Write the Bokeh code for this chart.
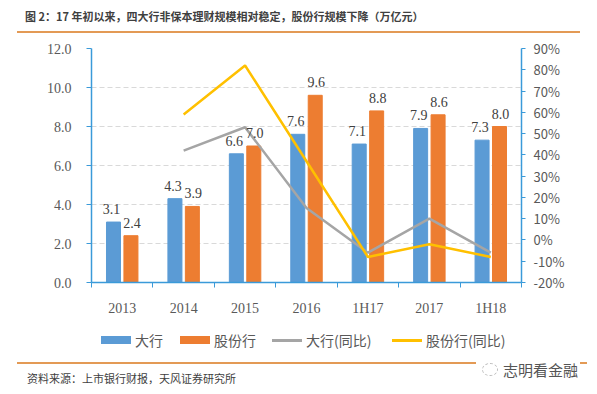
from bokeh.plotting import figure
from bokeh.models import (Range1d, LinearAxis, FixedTicker, NumeralTickFormatter,
                          PrintfTickFormatter, ColumnDataSource, LabelSet, Div)
from bokeh.layouts import column
from bokeh.embed import file_html
from bokeh.resources import INLINE
from bokeh.core.properties import value

categories = ["2013", "2014", "2015", "2016", "1H17", "2017", "1H18"]
big_banks = [3.1, 4.3, 6.6, 7.6, 7.1, 7.9, 7.3]
joint_stock = [2.4, 3.9, 7.0, 9.6, 8.8, 8.6, 8.0]
big_yoy = [float("nan"), 42, 53, 15, -6, 10, -6]
joint_yoy = [float("nan"), 59, 82, 37, -8, -2, -8]
left_ticks = [0, 2, 4, 6, 8, 10, 12]
right_ticks = [-20, -10, 0, 10, 20, 30, 40, 50, 60, 70, 80, 90]
series_names = ["大行", "股份行", "大行(同比)", "股份行(同比)"]

title_text = "图 2：17 年初以来，四大行非保本理财规模相对稳定，股份行规模下降（万亿元）"
source_text = "资料来源：上市银行财报，天风证券研究所"
watermark = "志明看金融"

BLUE = "#5B9BD5"
ORANGE = "#ED7D31"
GRAY = "#A5A5A5"
YELLOW = "#FFC000"
AXIS = "#3A9AD9"
TXT = "#595959"
SERIF = "Liberation Serif"
SANS = "Noto Sans CJK SC"

idx = list(range(len(categories)))
centers = [i + 0.5 for i in idx]
src = ColumnDataSource(dict(
    c=centers,
    xb=[c - 0.142 for c in centers],
    xo=[c + 0.142 for c in centers],
    big=big_banks, js=joint_stock,
    big_lbl=["%.1f" % v for v in big_banks],
    js_lbl=["%.1f" % v for v in joint_stock],
    by=big_yoy, jy=joint_yoy,
))

p = figure(width=597, height=292, output_backend="svg", toolbar_location=None,
           x_range=Range1d(0, 7), y_range=Range1d(0, 12),
           min_border_left=91, min_border_right=76, min_border_top=15, min_border_bottom=43)
p.outline_line_color = None
p.extra_y_ranges = {"pct": Range1d(-20, 90)}

p.xgrid.visible = False
p.ygrid.grid_line_color = "#D9D9D9"
p.ygrid.grid_line_dash = "5 3"
p.ygrid.ticker = FixedTicker(ticks=left_ticks)

p.vbar(x="xb", top="big", width=0.228, source=src, color=BLUE)
p.vbar(x="xo", top="js", width=0.228, source=src, color=ORANGE)
p.line(x="c", y="by", source=src, y_range_name="pct", line_color=GRAY, line_width=2.5)
p.line(x="c", y="jy", source=src, y_range_name="pct", line_color=YELLOW, line_width=2.5)

for xcol, ycol, tcol, xo in (("xb", "big", "big_lbl", -2), ("xo", "js", "js_lbl", 1)):
    p.add_layout(LabelSet(x=xcol, y=ycol, text=tcol, source=src, x_offset=xo, y_offset=8,
                          text_align="center", text_baseline="bottom",
                          text_font=value(SERIF), text_font_size="14px", text_color="#404040"))

# x axis
xa = p.xaxis[0]
xa.ticker = FixedTicker(ticks=centers, minor_ticks=[float(i) for i in range(len(categories) + 1)])
xa.major_label_overrides = {c: categories[i] for i, c in enumerate(centers)}
xa.major_tick_line_color = None
xa.major_tick_out = 0
xa.major_tick_in = 0
xa.minor_tick_line_color = AXIS
xa.minor_tick_out = 5
xa.minor_tick_in = 0
xa.axis_line_color = AXIS
xa.axis_line_width = 1.5
xa.major_label_standoff = 13
xa.major_label_text_font = SERIF
xa.major_label_text_font_size = "14px"
xa.major_label_text_color = TXT

# left axis
ya = p.yaxis[0]
ya.ticker = FixedTicker(ticks=left_ticks)
ya.formatter = NumeralTickFormatter(format="0.0")
ya.axis_line_color = AXIS
ya.axis_line_width = 1.5
ya.major_tick_line_color = AXIS
ya.major_tick_out = 5
ya.major_tick_in = 0
ya.minor_tick_line_color = None
ya.major_label_standoff = 15
ya.major_label_text_font = SERIF
ya.major_label_text_font_size = "14px"
ya.major_label_text_color = TXT

ra = LinearAxis(y_range_name="pct", ticker=FixedTicker(ticks=right_ticks),
                formatter=PrintfTickFormatter(format="%d%%"))
ra.axis_line_color = AXIS
ra.axis_line_width = 1.5
ra.major_tick_line_color = AXIS
ra.major_tick_out = 4
ra.major_tick_in = 0
ra.minor_tick_line_color = None
ra.major_label_standoff = 8
ra.major_label_text_font = SANS
ra.major_label_text_font_size = "13px"
ra.major_label_text_color = TXT
p.add_layout(ra, "right")

title_div = Div(width=597, height=33, margin=0, text=(
    '<div style="margin-left:17px;width:563px;height:23px;padding-top:8px;border-bottom:2px solid #E39A55;'
    'box-sizing:content-box;">'
    '<div style="padding-left:8px;font-family:\'Noto Sans CJK SC\';font-weight:bold;'
    'font-size:11px;line-height:16px;color:#404040;">' + title_text + '</div></div>'))

# legend as HTML
swatches = [(BLUE, 8), (ORANGE, 8), (GRAY, 3), (YELLOW, 3)]
lefts = [101, 180, 272, 392]
items_html = ""
for (col, h), name, lx in zip(swatches, series_names, lefts):
    items_html += (
        '<div style="position:absolute;left:%dpx;top:%dpx;width:30px;height:%dpx;background:%s;"></div>'
        % (lx, 15 - h // 2, h, col))
    items_html += (
        '<div style="position:absolute;left:%dpx;top:5px;font-family:\'Noto Sans CJK SC\';font-size:14px;'
        'line-height:20px;color:%s;white-space:nowrap;">%s</div>' % (lx + 34, TXT, name))
legend_div = Div(width=597, height=30, margin=0, text=(
    '<div style="position:relative;width:597px;height:30px;">' + items_html + '</div>'))

source_div = Div(width=597, height=39, margin=0, text=(
    '<div style="position:relative;width:597px;height:39px;">'
    '<div style="position:absolute;left:17px;top:7px;width:570px;border-top:2px solid #E39A55;"></div>'
    '<div style="position:absolute;left:27px;top:16px;font-family:\'Noto Sans CJK SC\';font-size:11px;'
    'line-height:14px;color:#404040;">' + source_text + '</div>'
    '<div style="position:absolute;left:476px;top:4px;width:104px;height:22px;background:white;"></div>'
    '<div style="position:absolute;left:482px;top:8px;width:16px;height:13px;border:1px dashed #BBBBBB;'
    'border-radius:50%;"></div>'
    '<div style="position:absolute;left:478px;top:5px;width:100px;height:20px;'
    'font-family:\'Noto Sans CJK SC\';font-size:15px;line-height:20px;color:#555;text-align:right;">'
    + watermark + '</div></div>'))

layout = column(title_div, p, legend_div, source_div, spacing=0)
open("out.html", "w").write(file_html(layout, INLINE))
